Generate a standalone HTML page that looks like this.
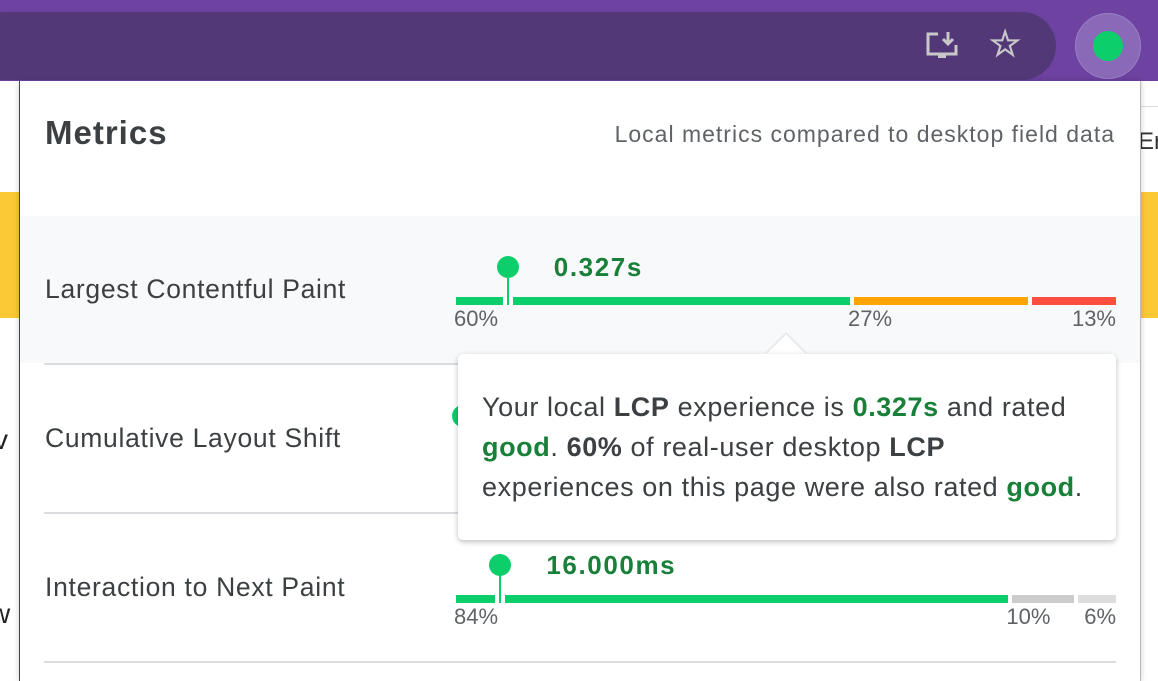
<!DOCTYPE html>
<html><head><meta charset="utf-8"><style>
*{box-sizing:border-box;margin:0;padding:0}
body{width:1158px;height:674px;overflow:hidden;position:relative;background:#fff;font-family:"Liberation Sans",sans-serif}
.abs{position:absolute;white-space:nowrap}
</style></head><body>
<div class="abs" style="left:0;top:0;width:1158px;height:81px;background:#6d42a1"></div>
<div class="abs" style="left:-30px;top:12px;width:1086px;height:68px;background:#533878;border-radius:34px"></div>
<svg class="abs" style="left:924px;top:30px" width="36" height="34" viewBox="0 0 36 34"><path d="M14 4H4v20h28V15" fill="none" stroke="#c8c8c8" stroke-width="3"/><rect x="14" y="24" width="8" height="4" fill="#c8c8c8"/><path d="M24 2v12M19 9l5 5 5-5" fill="none" stroke="#c8c8c8" stroke-width="3"/></svg>
<div class="abs" style="left:989px;top:24px;font-size:36px;color:#c8c8c8;line-height:40px;font-weight:bold">☆</div>
<div class="abs" style="left:1075px;top:13px;width:66px;height:66px;border-radius:50%;background:#8a6ab8;border:1px solid #9a7fc4"></div>
<div class="abs" style="left:1093px;top:31px;width:30px;height:30px;border-radius:50%;background:#0cce6b"></div>
<div class="abs" style="left:0;top:192px;width:20px;height:126px;background:#fbc935"></div>
<div class="abs" style="left:1140px;top:192px;width:20px;height:126px;background:#fbc935"></div>
<div class="abs" style="left:1140px;top:106px;width:20px;height:1px;background:#ddd"></div>
<div class="abs" style="left:1138px;top:128px;font-size:24px;color:#333">Er</div>
<div class="abs" style="left:-6px;top:424px;font-size:28px;color:#222">v</div>
<div class="abs" style="left:-10px;top:598px;font-size:28px;color:#222">w</div>
<div class="abs" style="left:19px;top:81px;width:1122px;height:600px;background:#fff;border-left:1px solid #444;border-right:1px solid #bbb;box-shadow:0 0 6px rgba(0,0,0,.2)"></div>
<div class="abs" style="left:45px;top:113px;font-size:33px;letter-spacing:1px;font-weight:bold;color:#3c4043;line-height:40px">Metrics</div>
<div class="abs" style="right:43px;top:120px;font-size:23px;letter-spacing:1px;color:#5f6368;line-height:28px">Local metrics compared to desktop field data</div>
<div class="abs" style="left:20px;top:216px;width:1120px;height:147px;background:#f8f9fa"></div>
<div id="rows"></div>
<div class="abs" style="left:772px;top:340px;width:28px;height:28px;background:#fff;transform:rotate(45deg);box-shadow:-1px -1px 2px rgba(0,0,0,.12)"></div>
<div class="abs" style="left:458px;top:354px;width:658px;height:186px;background:#fff;border-radius:5px;box-shadow:0 2px 6px rgba(0,0,0,.25);padding:33px 24px;font-size:27px;letter-spacing:0.6px;line-height:40px;color:#3c4043">
Your local <b>LCP</b> experience is <b style="color:#188038">0.327s</b> and rated<br><b style="color:#188038">good</b>. <b>60%</b> of real-user desktop <b>LCP</b><br>experiences on this page were also rated <b style="color:#188038">good</b>.
</div>
<div class="abs" style="left:766px;top:355px;width:40px;height:14px;background:#fff"></div>
<script>
const metricNames=["Largest Contentful Paint","Cumulative Layout Shift","Interaction to Next Paint"];
const localValues=[0.327,0.0,16];
const valueLabels=["0.327s","","16.000ms"];
const goodThresholds=[2.5,0.1,200];
const goodPct=[60,85,84];
const needsPct=[27,10,10];
const poorPct=[13,5,6];
const needsColors=["#ffa400","#ffa400","#cccccc"];
const poorColors=["#ff4e42","#ff4e42","#dddddd"];
const rowTop=216,rowH=149,x0=456,W=660,gap=4;
const root=document.getElementById('rows');
function px(p){return p/100*W;}
function add(parent,css,name,text){const d=document.createElement('div');d.className='abs';d.style.cssText=css;

if(text!==undefined)d.textContent=text;parent.appendChild(d);return d;}
metricNames.forEach((m,i)=>{
  const t=rowTop+i*rowH;
  add(root,`left:45px;top:${t+57}px;font-size:26.5px;letter-spacing:0.7px;color:#3c4043;line-height:32px`,'metric-label',m);
  const g=document.createElement('div');g.className='abs';g.style.cssText=`left:44px;top:${t+147}px;width:1072px;height:2px;background:#dadce0`;
  
  
  root.appendChild(g);
  const by=t+81;
  const gw=px(goodPct[i]),nw=px(needsPct[i]),pw=px(poorPct[i]);
  const mx=x0+Math.min(localValues[i]/goodThresholds[i],1)*gw+(i===1?7:0);
  if(i!==1){
  add(root,`left:${x0}px;top:${by}px;width:${gw-2}px;height:8px;background:#0cce6b`,'good-segment');
  add(root,`left:${mx-5}px;top:${by}px;width:10px;height:8px;background:#fff`,'marker-gap');
  add(root,`left:${x0+gw+2}px;top:${by}px;width:${nw-gap}px;height:8px;background:${needsColors[i]}`,'needs-improvement-segment');
  add(root,`left:${x0+gw+nw+2}px;top:${by}px;width:${pw-2}px;height:8px;background:${poorColors[i]}`,'poor-segment');
  add(root,`left:${mx-1}px;top:${by-30}px;width:2px;height:38px;background:#0cce6b`,'marker-stem');
  add(root,`left:${x0-2}px;top:${by+8}px;font-size:22px;color:#5f6368;line-height:28px`,'good-percent',goodPct[i]+'%');
  add(root,`left:${x0+gw-4}px;top:${by+8}px;font-size:22px;color:#5f6368;line-height:28px`,'needs-improvement-percent',needsPct[i]+'%');
  add(root,`right:${1158-(x0+W)}px;top:${by+8}px;font-size:22px;color:#5f6368;line-height:28px`,'poor-percent',poorPct[i]+'%');
  }
  add(root,`left:${mx-11}px;top:${by-41}px;width:22px;height:22px;border-radius:50%;background:#0cce6b`,'local-value-marker');
  if(valueLabels[i])add(root,`left:${mx+46}px;top:${by-46}px;font-size:26px;letter-spacing:1.6px;font-weight:bold;color:#188038;line-height:32px`,'local-value-label',valueLabels[i]);
});
</script>
</body></html>
